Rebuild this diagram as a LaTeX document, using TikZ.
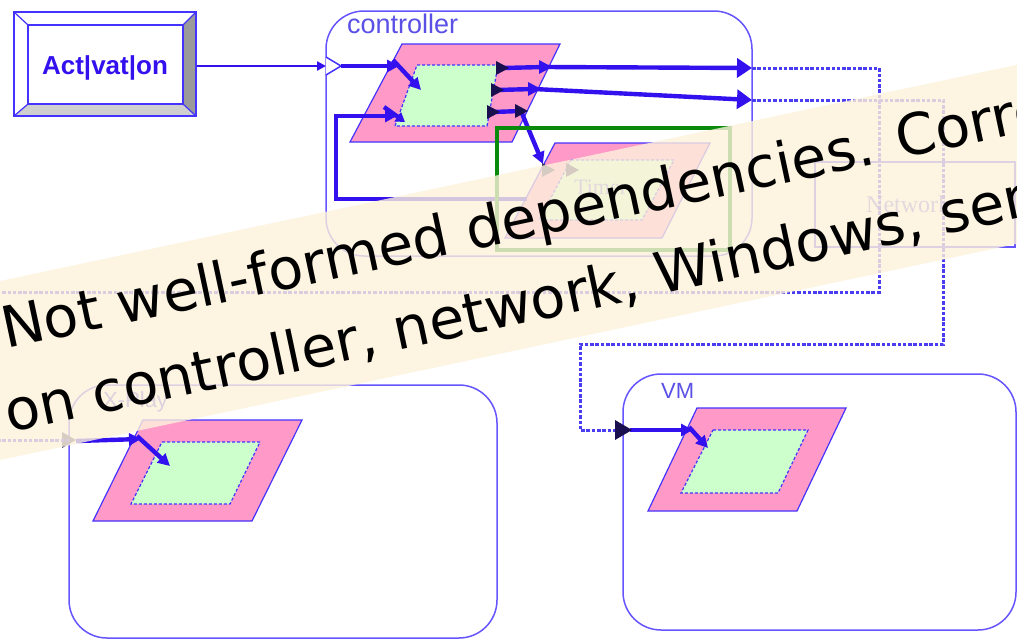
\documentclass[tikz,border=0pt]{standalone}
\usepackage{fontspec}
\setmainfont{Liberation Serif}
\setsansfont{Liberation Sans}
\newfontfamily\bannerfont{DejaVu Sans}
\usetikzlibrary{arrows.meta,calc}

\definecolor{pinkc}{HTML}{FF99C8}
\definecolor{greenc}{HTML}{CCFFCC}
\definecolor{edgeblue}{HTML}{4433FF}
\definecolor{boxblue}{HTML}{6655FF}
\definecolor{flowblue}{HTML}{3311EE}
\definecolor{labelblue}{HTML}{5A50E6}
\definecolor{linkblue}{HTML}{4A3CF0}
\definecolor{portdark}{HTML}{1A1050}
\definecolor{frame}{HTML}{0A8A0A}
\definecolor{bannerc}{HTML}{FDF2DB}
\definecolor{bevdark}{HTML}{9A9A9A}
\definecolor{bevlight}{HTML}{CFCFCF}

\tikzset{
  container/.style={draw=boxblue, line width=1.5pt, rounded corners=38pt},
  pinkpar/.style={fill=pinkc, draw=edgeblue, line width=1.2pt},
  greenpar/.style={fill=greenc, draw=edgeblue, line width=1.2pt, dash pattern=on 3pt off 2pt},
  flow/.style={draw=flowblue, line width=4.4pt, -{Triangle[length=12pt,width=12pt]}},
  flowplain/.style={draw=flowblue, line width=4.4pt},
  bigout/.style={draw=flowblue, line width=4.4pt, -{Triangle[length=15pt,width=19pt]}},
  link/.style={draw=linkblue, line width=3pt, dash pattern=on 3.5pt off 1.8pt},
  lbl/.style={font=\sffamily\fontsize{22}{24}\selectfont, text=labelblue, inner sep=0pt},
  serlbl/.style={font=\rmfamily\fontsize{24}{26}\selectfont, text=labelblue!80, inner sep=0pt},
  bannertext/.style={font=\bannerfont\fontsize{57}{68}\selectfont, text=black, inner sep=0pt, anchor=base west, rotate=12},
}

\newcommand{\porttri}[3]{% port triangle pointing right at (#1,#2), colour #3
  \fill[#3] (#1-6,#2-7) -- (#1+7,#2) -- (#1-6,#2+7) -- cycle;}

\begin{document}
\begin{tikzpicture}[x=1pt,y=-1pt]
\useasboundingbox (0,0) rectangle (1017,640);
\clip (0,0) rectangle (1017,640);
\fill[white] (0,0) rectangle (1017,640);

% ---------------- Activation button ----------------
\node[draw=edgeblue, line width=1.4pt, minimum width=182pt, minimum height=104pt, inner sep=0pt] (act) at (105,64) {};
\fill[bevdark] (183,25) -- (196,12) -- (196,116) -- (183,104) -- cycle;
\fill[bevlight] (28,104) -- (183,104) -- (196,116) -- (14,116) -- cycle;
\draw[edgeblue, line width=1.4pt] (14,12) rectangle (196,116);
\draw[edgeblue, line width=1.2pt] (28,25) rectangle (183,104);
\draw[edgeblue, line width=1.2pt] (14,12) -- (28,25) (196,12) -- (183,25)
      (14,116) -- (28,104) (196,116) -- (183,104);
\node[font=\sffamily\bfseries\fontsize{26}{28}\selectfont, text=flowblue, inner sep=0pt] (acttext) at (105,68) {Act|vat|on};

% ---------------- containers ----------------
\draw[container] (326,11) rectangle (752,256);
\node[lbl, anchor=west, font=\sffamily\fontsize{27}{29}\selectfont] (ctrllabel) at (347,24) {controller};

\draw[container] (69,385) rectangle (497,638);
\node[lbl, anchor=west] (xlabel) at (103,402) {X-Play};

\draw[container] (623,374) rectangle (1016,630);
\node[lbl, anchor=west] (vmlabel) at (661,391) {VM};

\node[draw=boxblue, line width=1.2pt, minimum width=200pt, minimum height=85pt, inner sep=0pt] (net) at (915,204.5) {};
\node[serlbl, anchor=base west] (netlabel) at (866,212) {Network};

% ---------------- controller internals ----------------
\draw[pinkpar] (402,44) -- (560,44) -- (512,142) -- (350,142) -- cycle;
\draw[greenpar] (417,65) -- (498,65) -- (487,126) -- (395,126) -- cycle;

% timer
\draw[pinkpar] (555,143) -- (710,143) -- (662,238) -- (505,238) -- cycle;
\draw[greenpar] (571,160) -- (674,160) -- (642,220) -- (539,220) -- cycle;
\node[serlbl, anchor=base west, font=\rmfamily\fontsize{22}{24}\selectfont] (timerlabel) at (574,194) {Timer};

% ports and points
\coordinate (cin) at (326,66);
\coordinate (cinA) at (341,66);
\coordinate (pin1) at (399,66);
\coordinate (pin1b) at (421,90);
\coordinate (pin2) at (397,116);
\coordinate (pin2b) at (405,122);
\coordinate (i1) at (502,68);
\coordinate (i2) at (497,90);
\coordinate (i3) at (493,112);
\coordinate (o1) at (545,67);
\coordinate (o2) at (534,89);
\coordinate (o3) at (521,111);
\coordinate (cout1) at (752,68);
\coordinate (cout2) at (752,100);
\coordinate (tin) at (543,164);
\coordinate (tloop) at (527,199);
\coordinate (loopA) at (336,199);
\coordinate (loopB) at (336,116);

% Activation into the controller
\draw[draw=flowblue, line width=2.6pt, -{Triangle[length=9pt,width=9pt]}] (act.east |- cin) -- (cin);
\draw[edgeblue, line width=1.5pt, fill=white] (326,57) -- (341,66) -- (326,75);

% inputs of the controller block
\draw[flow] (cinA) -- (pin1);
\draw[flow] ($(pin1)+(-6,-6)$) -- (pin1b);
\draw[flow] (tloop) -- (loopA) -- (loopB) -- (pin2);
\draw[flowplain, -{Triangle[length=9pt,width=11pt]}] (384,107) -- (pin2b);

% outputs of the controller block
\draw[flowplain] (i1) -- (o1);
\draw[flowplain] (i2) -- (o2);
\draw[flowplain] (i3) -- (o3);
\draw[bigout] (o1) -- (cout1);
\draw[bigout] (o2) -- (cout2);
\draw[flow] (o3) -- (tin);
\porttri{502}{68}{portdark}
\porttri{497}{90}{portdark}
\porttri{493}{112}{portdark}
\porttri{545}{67}{flowblue}
\porttri{534}{89}{flowblue}
\porttri{521}{111}{portdark}
\porttri{548}{170}{portdark!70!gray}
\porttri{572}{170}{portdark!70!gray}

% grouping frame
\draw[frame, line width=4pt] (497,128) rectangle (730,250);

% ---------------- X-Play internals ----------------
\draw[pinkpar] (143,420) -- (302,420) -- (252,521) -- (93,521) -- cycle;
\draw[greenpar] (162,442) -- (260,442) -- (230,504) -- (131,504) -- cycle;
\coordinate (xport) at (69,440);
\coordinate (xin) at (141,439);
\coordinate (xinb) at (170,466);
\fill[portdark!60!gray] (62,432) -- (76,440) -- (62,448) -- cycle;
\draw[flow] (76,441) -- (xin);
\draw[flow] ($(xin)+(-4,-3)$) -- (xinb);

% ---------------- VM internals ----------------
\draw[pinkpar] (697,408) -- (846,408) -- (797,511) -- (648,511) -- cycle;
\draw[greenpar] (713,430) -- (808,430) -- (778,493) -- (681,493) -- cycle;
\coordinate (vport) at (623,430);
\coordinate (vin) at (693,430);
\coordinate (vinb) at (708,448);
\draw[flow] (630,430) -- (vin);
\draw[flow] ($(vin)+(-4,-3)$) -- (vinb);

% ---------------- dependency links ----------------
\draw[link] (cout1) -- (879,68) -- (879,292) -- (-20,292) -- (-20,440) -- (xport);
\draw[link] (cout2) -- (943,100) -- (943,344) -- (580,344) -- (580,430) -- (vport);
\fill[portdark] (615,420) -- (632,430) -- (615,440) -- cycle;

% ---------------- note banner ----------------
\fill[bannerc, fill opacity=0.8] (-60,293.8) -- (1080,51.4) -- (1080,230.4) -- (-60,472.8) -- cycle;
\node[bannertext] (note1) at (6,349) {Not well-formed dependencies. Corre};
\node[bannertext] (note2) at (9,433) {on controller, network, Windows, ser};
\end{tikzpicture}
\end{document}
